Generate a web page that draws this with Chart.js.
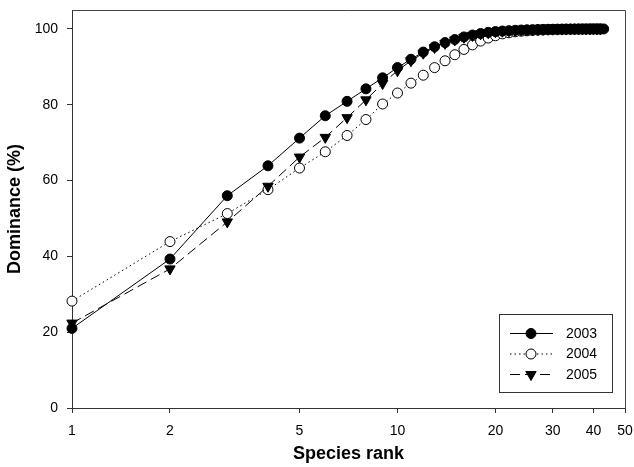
<!DOCTYPE html>
<html>
<head>
<meta charset="utf-8">
<title>Dominance by species rank</title>
<script src="https://cdn.jsdelivr.net/npm/chart.js@4.4.0/dist/chart.umd.min.js"></script>
<style>
  body { margin: 0; background: #fff; }
  #wrap { width: 634px; height: 467px; }
</style>
</head>
<body>
<div id="wrap"><canvas id="rankChart" width="634" height="467"></canvas></div>
<script>
const seriesNames = ['2003', '2004', '2005'];
const xTicks = [1, 2, 5, 10, 20, 30, 40, 50];
const yTicks = [0, 20, 40, 60, 80, 100];

// cumulative dominance (%), first value is species rank 1
const dom2003 = [21, 39.3, 56, 63.9, 71.2, 77.1, 80.9, 84.2, 87.1, 89.8,
  92, 93.9, 95.3, 96.4, 97.2, 97.9, 98.4, 98.8, 99.1, 99.3,
  99.45, 99.55, 99.65, 99.72, 99.78, 99.82, 99.86, 99.89, 99.91, 99.93,
  99.95, 99.96, 99.97, 99.98, 99.98, 99.99, 99.99, 99.99, 100, 100, 100, 100, 100];
const dom2004 = [28.2, 43.9, 51.3, 57.6, 63.3, 67.6, 71.9, 76.1, 80.2, 83.1,
  85.7, 87.8, 89.8, 91.6, 93.2, 94.6, 95.8, 96.8, 97.6, 98.2,
  98.7, 99.0, 99.25, 99.4, 99.5, 99.6, 99.68, 99.74, 99.8, 99.84,
  99.88, 99.91, 99.93, 99.95, 99.96, 99.97, 99.98, 99.99, 99.99, 100, 100, 100];
const dom2005 = [22.4, 36.7, 49.1, 58.5, 66.2, 71.4, 76.6, 81.3, 85.6, 89.0,
  91.6, 93.6, 95.1, 96.2, 97.1, 97.8, 98.3, 98.7, 99.0, 99.25,
  99.4, 99.52, 99.62, 99.7, 99.76, 99.81, 99.85, 99.88, 99.91, 99.93,
  99.95, 99.96, 99.97, 99.98, 99.98, 99.99, 99.99, 100, 100, 100, 100, 100];

const toPoints = arr => arr.map((v, i) => ({x: i + 1, y: v}));

Chart.defaults.font.family = '"Liberation Sans", Arial, sans-serif';
Chart.defaults.font.size = 14;
Chart.defaults.color = '#000';

// top and right edges of the plot box
const frame = {
  id: 'frame',
  beforeDatasetsDraw(chart) {
    const {ctx, chartArea: a} = chart;
    ctx.save();
    ctx.strokeStyle = '#444';
    ctx.lineWidth = 1;
    ctx.beginPath();
    ctx.moveTo(a.left, a.top + 0.5);
    ctx.lineTo(a.right + 0.5, a.top + 0.5);
    ctx.lineTo(a.right + 0.5, a.bottom);
    ctx.stroke();
    ctx.restore();
  }
};

function drawMarker(ctx, ds, x, y) {
  const r = ds.pointRadius;
  ctx.fillStyle = ds.pointBackgroundColor;
  ctx.strokeStyle = ds.pointBorderColor;
  ctx.lineWidth = 1;
  ctx.beginPath();
  if (ds.pointStyle === 'triangle') {
    for (let k = 0; k < 3; k++) {
      const ang = Math.PI + k * 2 * Math.PI / 3;
      const px = x + Math.sin(ang) * r, py = y - Math.cos(ang) * r;
      if (k === 0) ctx.moveTo(px, py); else ctx.lineTo(px, py);
    }
    ctx.closePath();
  } else {
    ctx.arc(x, y, r, 0, Math.PI * 2);
  }
  ctx.fill();
  ctx.stroke();
}

// boxed legend in the lower right corner of the plot
const boxLegend = {
  id: 'boxLegend',
  afterDraw(chart) {
    const {ctx, chartArea: a} = chart;
    const right = a.right - 13, left = right - 113;
    const bottom = a.bottom - 16, top = bottom - 78;
    ctx.save();
    ctx.fillStyle = '#fff';
    ctx.fillRect(left, top, right - left, bottom - top);
    ctx.strokeStyle = '#333';
    ctx.lineWidth = 1;
    ctx.strokeRect(left + 0.5, top + 0.5, right - left, bottom - top);
    chart.data.datasets.forEach((ds, i) => {
      const y = top + 19.5 + i * 20.5;
      ctx.strokeStyle = ds.borderColor;
      ctx.lineWidth = ds.borderWidth;
      ctx.setLineDash(ds.borderDash || []);
      ctx.beginPath();
      ctx.moveTo(left + 11, y);
      ctx.lineTo(left + 54, y);
      ctx.stroke();
      ctx.setLineDash([]);
      drawMarker(ctx, ds, left + 32, y);
      ctx.fillStyle = '#000';
      ctx.font = '14px "Liberation Sans", Arial, sans-serif';
      ctx.textAlign = 'left';
      ctx.textBaseline = 'middle';
      ctx.fillText(ds.label, left + 67, y + 0.5);
    });
    ctx.restore();
  }
};

// keep the plot box where the reference has it
const noEdgePadding = axis => {
  axis.paddingTop = 0;
  axis.paddingBottom = 0;
  axis.paddingLeft = 0;
  axis.paddingRight = 0;
};

const ctx = document.getElementById('rankChart').getContext('2d');
new Chart(ctx, {
  type: 'line',
  data: {
    datasets: [{
      label: seriesNames[0],
      data: toPoints(dom2003),
      borderColor: '#000',
      borderWidth: 1,
      pointStyle: 'circle',
      pointRadius: 5,
      pointBackgroundColor: '#000',
      pointBorderColor: '#000',
      order: 0,
      clip: false
    }, {
      label: seriesNames[1],
      data: toPoints(dom2004),
      borderColor: '#000',
      borderWidth: 1,
      borderDash: [1.5, 3],
      pointStyle: 'circle',
      pointRadius: 5,
      pointBackgroundColor: '#fff',
      pointBorderColor: '#000',
      order: 2,
      clip: false
    }, {
      label: seriesNames[2],
      data: toPoints(dom2005),
      borderColor: '#000',
      borderWidth: 1,
      borderDash: [10, 5],
      pointStyle: 'triangle',
      pointRotation: 180,
      pointRadius: 6,
      pointBackgroundColor: '#000',
      pointBorderColor: '#000',
      order: 1,
      clip: false
    }]
  },
  options: {
    responsive: false,
    animation: false,
    devicePixelRatio: 1,
    layout: { padding: { top: 10, right: 9, left: 0, bottom: 0 } },
    plugins: { legend: { display: false }, tooltip: { enabled: false } },
    scales: {
      x: {
        type: 'logarithmic',
        min: 1,
        max: 50,
        afterBuildTicks: axis => { axis.ticks = xTicks.map(v => ({value: v})); },
        afterFit: axis => { axis.height = 59; noEdgePadding(axis); },
        ticks: { callback: v => String(v), padding: 10, maxRotation: 0, autoSkip: false, color: '#000' },
        grid: { drawOnChartArea: false, tickLength: 5, color: '#333' },
        border: { display: true, color: '#333', width: 1 },
        title: { display: true, text: 'Species rank', font: { size: 18, weight: 'bold' }, padding: { top: 0, bottom: 2 }, color: '#000' }
      },
      y: {
        min: 0,
        max: 105,
        afterBuildTicks: axis => { axis.ticks = yTicks.map(v => ({value: v})); },
        afterFit: axis => { axis.width = 72; noEdgePadding(axis); },
        ticks: { padding: 9, color: '#000' },
        grid: { drawOnChartArea: false, tickLength: 5, color: '#333' },
        border: { display: true, color: '#333', width: 1 },
        title: { display: true, text: 'Dominance (%)', font: { size: 18, weight: 'bold' }, padding: { top: 4, bottom: 0 }, color: '#000' }
      }
    }
  },
  plugins: [frame, boxLegend]
});
</script>
</body>
</html>
